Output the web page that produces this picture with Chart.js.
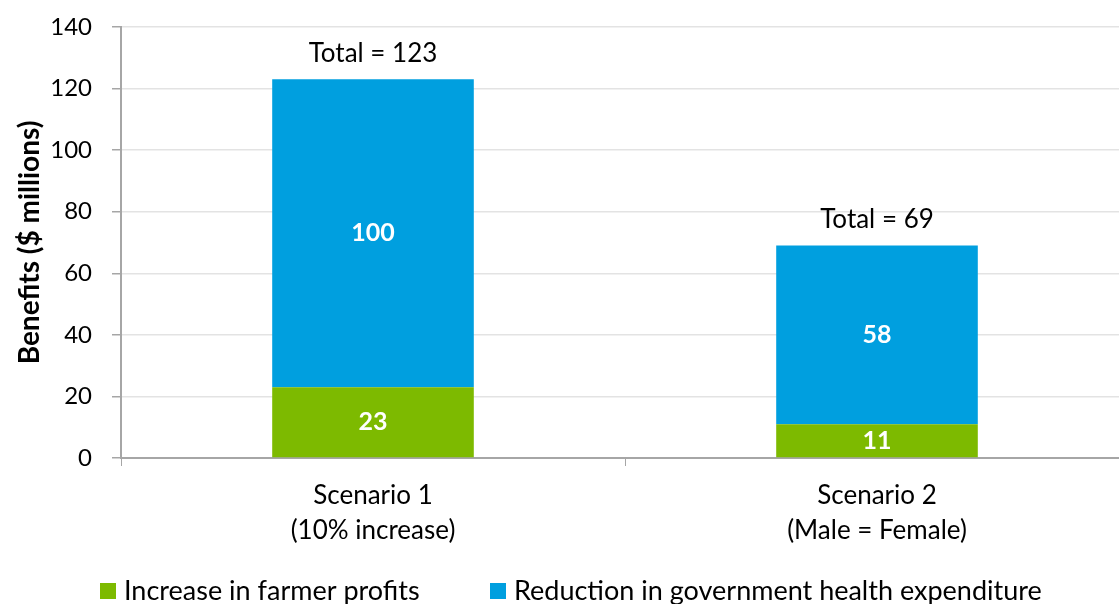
<!DOCTYPE html>
<html>
<head>
<meta charset="utf-8">
<script src="https://cdn.jsdelivr.net/npm/chart.js@4"></script>
<style>
  html, body { margin: 0; background: #fff; overflow: hidden; }
  #wrap { width: 1129px; height: 604px; position: relative; }
</style>
</head>
<body>
<div id="wrap"><canvas id="benefitsChart"></canvas></div>
<script>
const scenarios = [["Scenario 1", "(10% increase)"], ["Scenario 2", "(Male = Female)"]];
const farmerProfits = [23, 11];
const healthSavings = [100, 58];
const yTicks = [0, 20, 40, 60, 80, 100, 120, 140];
const seriesNames = ["Increase in farmer profits", "Reduction in government health expenditure"];
const seriesColors = ["#7dba00", "#009fdf"];

const FONT = "Lato, 'Open Sans', sans-serif";

// white value labels inside each segment, plus "Total = n" above each stack
const barLabels = {
  id: "barLabels",
  afterDatasetsDraw(chart) {
    const ctx = chart.ctx;
    ctx.save();
    ctx.textAlign = "center";
    ctx.textBaseline = "middle";
    chart.data.datasets.forEach((ds, di) => {
      chart.getDatasetMeta(di).data.forEach((bar, i) => {
        ctx.fillStyle = "#fff";
        ctx.font = "bold 25px " + FONT;
        ctx.fillText(String(ds.data[i]), bar.x, (bar.y + bar.base) / 2);
      });
    });
    const top = chart.getDatasetMeta(1).data;
    top.forEach((bar, i) => {
      const total = farmerProfits[i] + healthSavings[i];
      ctx.fillStyle = "#000";
      ctx.font = "26px " + FONT;
      ctx.fillText("Total = " + total, bar.x, bar.y - 26);
    });
    ctx.restore();
  },
};

// legend row under the axis
const bottomLegend = {
  id: "bottomLegend",
  afterDraw(chart) {
    const ctx = chart.ctx;
    const spots = [100, 490];
    ctx.save();
    ctx.font = "27px " + FONT;
    ctx.textBaseline = "middle";
    ctx.textAlign = "left";
    seriesNames.forEach((name, i) => {
      ctx.fillStyle = seriesColors[i];
      ctx.fillRect(spots[i], 583, 16, 16);
      ctx.fillStyle = "#000";
      ctx.fillText(name, spots[i] + 24, 591);
    });
    ctx.restore();
  },
};

new Chart(document.getElementById("benefitsChart"), {
  type: "bar",
  data: {
    labels: scenarios,
    datasets: [
      {
        label: seriesNames[0],
        data: farmerProfits,
        backgroundColor: seriesColors[0],
      },
      {
        label: seriesNames[1],
        data: healthSavings,
        backgroundColor: seriesColors[1],
      },
    ],
  },
  options: {
    responsive: true,
    maintainAspectRatio: false,
    animation: false,
    layout: { padding: { top: 27, right: 0, left: 0, bottom: 0 } },
    datasets: { bar: { categoryPercentage: 1, barPercentage: 0.4 } },
    plugins: {
      legend: { display: false },
      tooltip: { enabled: false },
    },
    scales: {
      x: {
        stacked: true,
        afterFit: (s) => { s.height = 146; },
        border: { color: "#a6a6a6", width: 2 },
        grid: {
          offset: true,
          drawOnChartArea: false,
          tickLength: 8,
          color: "#a6a6a6",
        },
        ticks: {
          color: "#000",
          padding: 12,
          font: { family: FONT, size: 26, lineHeight: 1.35 },
        },
      },
      y: {
        stacked: true,
        min: 0,
        max: 140,
        afterFit: (s) => {
          s.width = 121;
          s.paddingTop = 0;
          s.paddingBottom = 0;
        },
        afterBuildTicks: (s) => { s.ticks = yTicks.map((v) => ({ value: v })); },
        border: { color: "#a6a6a6", width: 2 },
        grid: { color: "#e3e3e3", tickLength: 9, tickColor: "#a6a6a6", lineWidth: 1.5 },
        ticks: {
          color: "#000",
          padding: 20,
          font: { family: FONT, size: 24 },
        },
        title: {
          display: true,
          text: "Benefits ($ millions)",
          color: "#000",
          padding: { top: 13, bottom: 0 },
          font: { family: FONT, size: 28, weight: "bold" },
        },
      },
    },
  },
  plugins: [barLabels, bottomLegend],
});
</script>
</body>
</html>
